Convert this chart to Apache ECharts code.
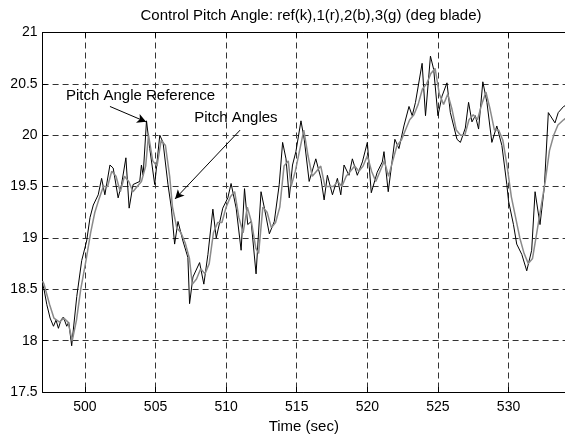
<!DOCTYPE html>
<html>
<head>
<meta charset="utf-8">
<script src="https://cdn.jsdelivr.net/npm/echarts@6/dist/echarts.min.js"></script>
<style>
html,body{margin:0;padding:0;background:#fff;}
#chart{width:565px;height:439px;}
</style>
</head>
<body>
<div id="chart"></div>
<script>
// Pitch angle reference (black)
var refTime = [497.0,497.1,497.3,497.53,497.77,497.95,498.12,498.3,498.47,498.71,498.85,499.06,499.42,499.77,500.12,500.36,500.59,500.94,501.18,501.41,501.77,502.0,502.35,502.59,502.9,503.13,503.41,503.88,504.0,504.12,504.36,504.59,504.94,505.3,505.53,505.88,506.12,506.35,506.59,506.94,507.29,507.41,507.65,508.12,508.42,508.71,509.06,509.3,509.76,510.12,510.35,510.71,511.06,511.3,511.53,511.77,512.12,512.47,512.71,513.06,513.41,513.76,514.0,514.24,514.47,514.7,514.94,515.3,515.53,515.88,516.35,516.71,516.94,517.17,517.53,517.88,518.12,518.35,518.7,518.94,519.29,519.65,520.0,520.28,520.7,521.06,521.18,521.48,521.95,522.24,522.59,522.95,523.18,523.41,523.88,524.12,524.47,524.7,525.0,525.29,525.64,525.88,526.35,526.59,526.94,527.17,527.41,527.65,527.88,528.18,528.47,528.82,529.17,529.53,529.88,530.0,530.35,530.58,530.94,531.29,531.64,531.88,532.23,532.54,532.82,533.29,533.52,533.9,534.2];
var refVals = [18.55,18.50,18.35,18.22,18.14,18.2,18.12,18.2,18.23,18.14,18.18,17.95,18.43,18.78,18.97,19.2,19.32,19.42,19.58,19.42,19.71,19.68,19.39,19.52,19.78,19.29,19.52,19.55,19.71,19.61,20.14,19.87,19.52,20.0,19.93,19.52,19.29,18.94,19.16,18.97,18.81,18.36,18.62,18.76,18.55,18.84,19.28,19.0,19.29,19.39,19.53,19.29,18.88,19.48,19.13,19.16,18.65,19.45,19.29,19.04,19.16,19.52,19.93,19.77,19.39,19.71,19.84,20.14,19.96,19.55,19.77,19.58,19.37,19.61,19.42,19.58,19.42,19.71,19.61,19.77,19.61,19.74,19.93,19.44,19.64,19.74,19.84,19.45,19.96,19.87,20.09,20.28,20.19,20.32,20.70,20.19,20.77,20.64,20.19,20.38,20.51,20.22,19.96,19.93,20.07,20.32,20.13,20.19,20.06,20.52,20.32,19.93,20.09,19.9,19.52,19.36,19.13,18.94,18.84,18.68,18.88,19.45,19.13,19.5,20.22,20.12,20.22,20.28,20.3];
// Pitch angles (gray)
var angTime = [497.0,497.1,497.5,497.8,498.2,498.5,498.8,499.1,499.4,499.7,500.1,500.4,500.7,501.0,501.3,501.6,501.9,502.2,502.5,502.8,503.1,503.4,503.7,504.0,504.3,504.5,504.8,505.1,505.4,505.7,506.0,506.2,506.5,506.8,507.1,507.4,507.6,507.9,508.2,508.5,508.8,509.1,509.4,509.7,510.0,510.3,510.6,510.9,511.2,511.5,511.8,512.1,512.3,512.6,512.9,513.2,513.5,513.8,514.1,514.4,514.6,514.9,515.2,515.5,515.8,516.1,516.4,516.7,517.0,517.3,517.6,517.9,518.2,518.5,518.8,519.1,519.4,519.7,520.0,520.3,520.6,520.9,521.2,521.5,521.8,522.1,522.4,522.7,523.0,523.3,523.6,523.9,524.2,524.5,524.8,525.1,525.4,525.7,526.0,526.3,526.6,526.9,527.2,527.5,527.8,528.1,528.4,528.7,529.0,529.3,529.6,529.9,530.2,530.5,530.8,531.1,531.4,531.7,532.0,532.3,532.6,532.9,533.2,533.5,533.9,534.2];
var angVals = [18.58,18.55,18.35,18.22,18.18,18.22,18.18,18.0,18.2,18.5,18.8,19.05,19.25,19.38,19.5,19.5,19.65,19.6,19.45,19.6,19.55,19.45,19.5,19.55,19.7,20.0,19.75,19.7,19.95,19.9,19.6,19.3,19.1,19.05,18.95,18.8,18.55,18.6,18.7,18.65,18.75,19.05,19.15,19.15,19.3,19.4,19.45,19.2,19.05,19.3,19.15,18.9,18.85,19.3,19.25,19.1,19.15,19.3,19.7,19.75,19.5,19.65,19.85,20.05,19.8,19.6,19.65,19.7,19.5,19.5,19.5,19.55,19.5,19.6,19.65,19.7,19.65,19.7,19.8,19.65,19.55,19.65,19.75,19.6,19.75,19.9,19.95,20.05,20.15,20.2,20.3,20.45,20.5,20.6,20.65,20.4,20.3,20.4,20.25,20.05,20.0,20.0,20.15,20.2,20.15,20.3,20.42,20.25,20.05,20.05,19.95,19.7,19.4,19.2,19.0,18.85,18.75,18.8,19.05,19.3,19.55,19.85,20.0,20.1,20.15,20.18];

var titleText = 'Control Pitch Angle: ref(k),1(r),2(b),3(g) (deg blade)';
var xLabel = 'Time (sec)';
var annoRefText = 'Pitch Angle Reference';
var annoAngText = 'Pitch Angles';

function pairs(t, v){ return t.map(function(x,i){ return [x, v[i]]; }); }

var FONT = '"Liberation Sans", Arial, sans-serif';
var chart = echarts.init(document.getElementById('chart'), null, {renderer:'canvas'});
var gridLine = {show:true, lineStyle:{color:'#333', type:[6,4], width:1}};
var axisLine = {show:true, onZero:false, lineStyle:{color:'#000', width:1}};
var tick = {show:true, inside:true, length:5, lineStyle:{color:'#000'}};

chart.setOption({
  animation:false,
  backgroundColor:'#fff',
  title:{text:titleText, left:306, textAlign:'center', top:3,
    textStyle:{fontFamily:FONT, fontSize:15, fontWeight:'normal', color:'#000'}},
  grid:{left:42.6, top:32.5, width:524.8, height:364},
  xAxis:[{
    type:'value', min:497, max:534, splitNumber:7, minInterval:5, maxInterval:5,
    name:xLabel, nameLocation:'middle', nameGap:27,
    nameTextStyle:{fontFamily:FONT, fontSize:15, color:'#000'},
    axisLine:axisLine, axisTick:tick, splitLine:gridLine,
    axisLabel:{fontFamily:FONT, fontSize:14, color:'#000', margin:8, showMinLabel:false, showMaxLabel:false,
      formatter:function(v){ return (Math.abs(v % 5) < 1e-6) ? String(v) : ''; }}
  },{
    type:'value', position:'top', min:497, max:534, splitNumber:7, minInterval:5, maxInterval:5,
    axisLine:axisLine, axisTick:tick, splitLine:{show:false}, axisLabel:{show:false}
  }],
  yAxis:[{
    type:'value', min:17.5, max:21, interval:0.5,
    axisLine:axisLine, axisTick:tick, splitLine:gridLine,
    axisLabel:{fontFamily:FONT, fontSize:14, color:'#000', margin:5}
  }],
  series:[{
    type:'line', data:pairs(refTime, refVals), showSymbol:false, symbol:'none',
    lineStyle:{color:'#000', width:1}, z:3,
    markLine:{silent:true, symbol:['none','arrow'], symbolSize:[7,9], label:{show:false},
      lineStyle:{color:'#000', width:1, type:'solid'},
      data:[
        [{coord:[501.77,20.28]},{coord:[504.33,20.13]}],
        [{coord:[510.99,20.05]},{coord:[506.38,19.38]}]
      ]},
    markPoint:{silent:true, symbol:'circle', symbolSize:0,
      label:{show:true, position:'inside', fontFamily:FONT, fontSize:15, color:'#000',
        formatter:function(p){ return p.name; }},
      data:[
        {name:annoRefText, coord:[503.94,20.385]},
        {name:annoAngText, coord:[510.69,20.166]}
      ]}
  },{
    type:'line', data:pairs(angTime, angVals), showSymbol:false, symbol:'none',
    lineStyle:{color:'#8a8a8a', width:1.5}, z:4
  }]
});
</script>
</body>
</html>
